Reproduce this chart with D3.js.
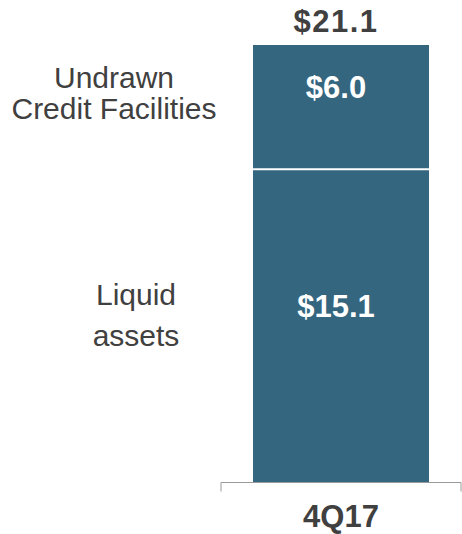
<!DOCTYPE html>
<html><head><meta charset="utf-8">
<script src="https://cdn.jsdelivr.net/npm/d3@7"></script>
<style>body{margin:0;background:#fff}svg{display:block}text{font-family:"Liberation Sans",Arial,sans-serif}</style>
</head><body>
<script>
const categories = ["4Q17"];
const seriesNames = ["Liquid assets", "Undrawn Credit Facilities"];
const liquid = [15.1];
const undrawn = [6.0];
const totals = [21.1];
const seriesLabels = [["Liquid", "assets"], ["Undrawn", "Credit Facilities"]];

const W = 462, H = 534;
const svg = d3.select("body").append("svg").attr("width", W).attr("height", H);
const x = d3.scaleBand().domain(categories).range([221, 461]).paddingInner(0).paddingOuter(0.1818);
const y = d3.scaleLinear().domain([0, 21.1]).range([482, 45]);

const data = categories.map((c, i) => ({cat: c, liquid: liquid[i], undrawn: undrawn[i]}));
const stack = d3.stack().keys(["liquid", "undrawn"])(data);
const color = "#34667f";

const groups = svg.selectAll("g.s").data(stack).join("g");
groups.selectAll("rect").data(d => d).join("rect")
  .attr("x", d => x(d.data.cat))
  .attr("width", x.bandwidth())
  .attr("y", d => y(d[1]))
  .attr("height", d => y(d[0]) - y(d[1]))
  .attr("fill", color);
// white separators
stack.slice(1).forEach(s => s.forEach(d => {
  svg.append("line").attr("x1", x(d.data.cat)).attr("x2", x(d.data.cat) + x.bandwidth())
    .attr("y1", y(d[0])).attr("y2", y(d[0])).attr("stroke", "#fff").attr("stroke-width", 2);
}));
// value labels
stack.forEach(s => s.forEach(d => {
  svg.append("text").attr("x", x(d.data.cat) + x.bandwidth() / 2 - 5)
    .attr("y", (y(d[0]) + y(d[1])) / 2 - 9)
    .attr("text-anchor", "middle").attr("fill", "#fff").attr("font-weight", "bold").attr("font-size", 31)
    .text("$" + (d[1] - d[0]).toFixed(1));
}));
// totals
categories.forEach((c, i) => {
  svg.append("text").attr("x", x(c) + x.bandwidth() / 2 - 5).attr("y", y(totals[i]) - 13)
    .attr("text-anchor", "middle").attr("fill", "#404040").attr("font-weight", "bold").attr("font-size", 31)
    .attr("letter-spacing", 1.5)
    .text("$" + totals[i].toFixed(1));
});
// axis
const axis = svg.append("g").attr("transform", "translate(0,482.5)");
axis.append("line").attr("x1", 221).attr("x2", 461).attr("stroke", "#999").attr("stroke-width", 1);
[221, 461].forEach(px => axis.append("line").attr("x1", px).attr("x2", px).attr("y1", 0).attr("y2", 9).attr("stroke", "#999"));
categories.forEach(c => {
  svg.append("text").attr("x", x(c) + x.bandwidth() / 2).attr("y", 527)
    .attr("text-anchor", "middle").attr("fill", "#404040").attr("font-weight", "bold").attr("font-size", 31).text(c);
});
// series labels on left
const labelPos = [{x: 136, y0: 305, dy: 41}, {x: 114, y0: 88, dy: 31}];
seriesLabels.forEach((lines, i) => {
  const t = svg.append("text").attr("text-anchor", "middle").attr("fill", "#404040").attr("font-size", 30);
  lines.forEach((ln, j) => t.append("tspan").attr("x", labelPos[i].x).attr("y", labelPos[i].y0 + j * labelPos[i].dy).text(ln));
});
</script>
</body></html>
